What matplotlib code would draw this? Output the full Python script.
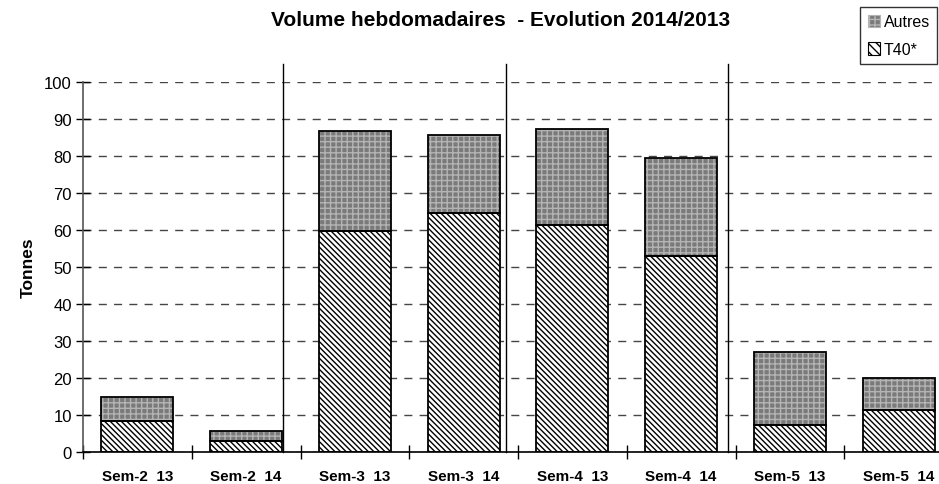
import numpy as np
import matplotlib.pyplot as plt
from matplotlib.patches import Patch

plt.rcParams['font.family'] = ['Liberation Sans', 'DejaVu Sans']

categories = ['Sem-2  13', 'Sem-2  14', 'Sem-3  13', 'Sem-3  14',
              'Sem-4  13', 'Sem-4  14', 'Sem-5  13', 'Sem-5  14']
t40 = [8.5, 2.9, 59.8, 64.7, 61.4, 53.0, 7.3, 11.3]
totals = [14.9, 5.6, 86.8, 85.8, 87.3, 79.4, 26.9, 20.1]
autres = [t - b for t, b in zip(totals, t40)]
separators = [1.34, 3.39, 5.43]

fig = plt.figure(figsize=(9.39, 4.85), dpi=100)
ax = fig.add_axes([83 / 939, 32 / 485, 870 / 939, 370 / 485])

x = np.arange(len(categories))
w = 0.66
grey = '#7a7a7a'

# pattern fills (hatch colour follows edgecolor), then black outlines on top
ax.bar(x, t40, w, color='white', edgecolor='black', hatch='\\\\\\\\\\\\', lw=0, zorder=2)
ax.bar(x, autres, w, bottom=t40, color=grey, edgecolor='#b4b4b4', hatch='+++', lw=0, zorder=2)
ax.bar(x, t40, w, fill=False, edgecolor='black', lw=1.3, zorder=3)
ax.bar(x, autres, w, bottom=t40, fill=False, edgecolor='black', lw=1.3, zorder=3)

ax.set_xlim(-0.5, 7.5)
ax.set_ylim(0, 100)
ax.set_yticks(np.arange(0, 101, 10))
ax.set_xticks(x)
ax.set_xticklabels(categories, fontweight='bold', fontsize=11)
ax.set_xticks(np.arange(-0.5, 8, 1), minor=True)
ax.tick_params(axis='x', which='major', length=0, pad=12)
ax.tick_params(axis='x', which='minor', direction='inout', length=10, width=1)
ax.tick_params(axis='y', direction='inout', length=10, width=1, labelsize=12, pad=3)

ax.yaxis.grid(True, linestyle=(0, (5.8, 5.2)), color='#454545', lw=1)
ax.set_axisbelow(True)
for s in ['top', 'right']:
    ax.spines[s].set_visible(False)
ax.spines['left'].set_color('#555555')
ax.spines['left'].set_linewidth(1.2)
ax.spines['bottom'].set_linewidth(1.2)

for sx in separators:
    ax.plot([sx, sx], [0, 1.05], color='black', lw=1,
            transform=ax.get_xaxis_transform(), clip_on=False, zorder=4)

ax.set_ylabel('Tonnes', fontweight='bold', fontsize=12.5, labelpad=6)
fig.text(501 / 939, 1 - 20 / 485, 'Volume hebdomadaires  - Evolution 2014/2013',
         ha='center', va='center', fontweight='bold', fontsize=15)

handles = [Patch(facecolor=grey, edgecolor='#b4b4b4', hatch='+++'),
           Patch(facecolor='white', edgecolor='black', hatch='\\\\\\\\')]
leg = fig.legend(handles, ['Autres', 'T40*'], loc='upper right',
                 bbox_to_anchor=(937 / 939, 1 - 8 / 485), fontsize=11.5,
                 frameon=True, fancybox=False, handlelength=0.8, handleheight=0.8,
                 handletextpad=0.2, borderpad=0.45, labelspacing=0.8, borderaxespad=0)
leg.get_frame().set_edgecolor('black')
leg.get_frame().set_linewidth(1)
for p in leg.get_patches():
    p.set_linewidth(0.8)

fig.savefig('out.png', dpi=100)
